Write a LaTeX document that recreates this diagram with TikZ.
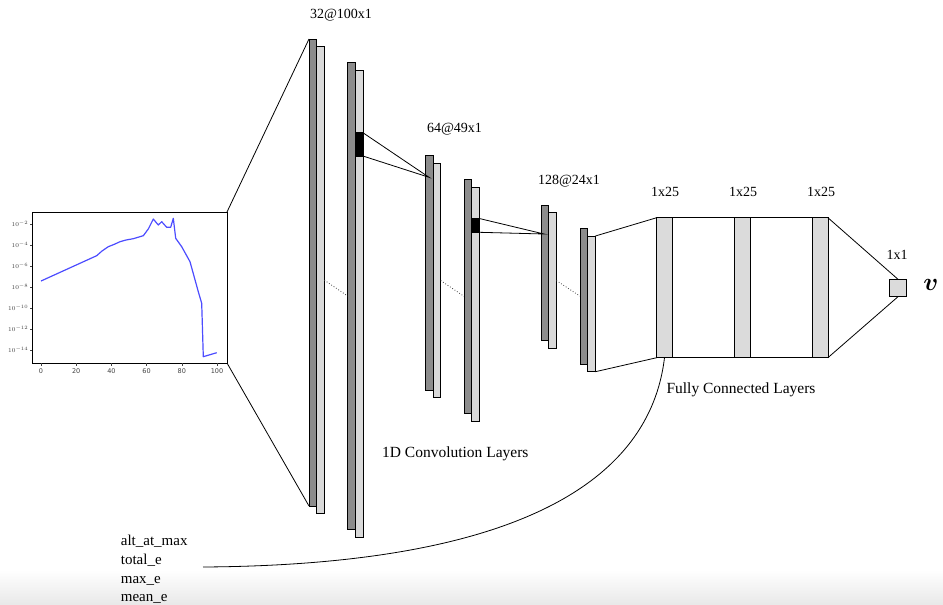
\documentclass[tikz,border=0pt]{standalone}
\usepackage{fontspec}
\setmainfont{Liberation Serif}
\newfontfamily\plotfont{DejaVu Sans}
\usepackage{bm}
\newcommand\convpair[4]{%
  \node[dbar,minimum height=#4] (#1d) at (#2,#3) {};
  \node[lbar,minimum height=#4] (#1l) at ({#2+7.7},{#3+7.7}) {};}
\begin{document}
\begin{tikzpicture}[x=1pt,y=-1pt,
  barbase/.style={draw=black,line width=0.8pt,inner sep=0pt,outer sep=0pt,minimum width=7.7pt,anchor=north west},
  dbar/.style={barbase,fill=black!45},
  lbar/.style={barbase,fill=black!15},
  kern/.style={barbase,fill=black,minimum width=7.6pt},
  fcbar/.style={draw=black,line width=0.8pt,fill=black!14,inner sep=0pt,outer sep=0pt,minimum width=15.6pt,minimum height=140pt,anchor=north west},
  conn/.style={draw=black,line width=0.8pt},
  dotconn/.style={draw=black!75,line width=0.8pt,dotted},
  lab/.style={font=\fontsize{14}{16}\selectfont,inner sep=0pt},
  biglab/.style={font=\fontsize{15.5}{18}\selectfont,inner sep=0pt},
  feat/.style={font=\fontsize{15}{18}\selectfont,inner sep=0pt,anchor=base west},
  tick/.style={font=\plotfont\fontsize{6.5}{7}\selectfont,text=black!75,inner sep=0pt}
]
\useasboundingbox (0,0) rectangle (943,605);
\shade[top color=white,bottom color=black!9] (0,570) rectangle (943,605);

% input plot
\node[draw=black,line width=0.6pt,inner sep=0pt,outer sep=0pt,minimum width=195pt,minimum height=151pt,anchor=north west] (plot) at (32,212) {};
\foreach \k/\lab in {0/-2,1/-4,2/-6,3/-8,4/-10,5/-12,6/-14}{
  \draw[black!75,line width=0.4pt] (32,{224+21*\k}) -- (29.5,{224+21*\k});
  \node[tick,anchor=east] (yt\k) at (28.5,{224+21*\k}) {$10^{\lab}$};
}
\foreach \i/\lab in {0/0,1/20,2/40,3/60,4/80,5/100}{
  \draw[black!75,line width=0.4pt] ({41+35.2*\i},363) -- ({41+35.2*\i},365.5);
  \node[tick] (xt\i) at ({41+35.2*\i},371) {\lab};
}
\draw[blue!70,line width=1.2pt,line join=round] (41,281) -- (96.7,255.7) -- (102,251) -- (108.3,246.7) -- (115,244) -- (120,241.7)
  -- (126,240) -- (133.3,238.7) -- (143.3,235.7) -- (148.3,229) -- (153.3,219) -- (158.3,225) -- (161.7,221.7)
  -- (166.7,227.3) -- (170.7,227.3) -- (173.3,218.3) -- (175.7,238.3) -- (181.7,246.7) -- (190,261.7)
  -- (198.3,291.7) -- (201.7,303.3) -- (203.3,356.7) -- (216.7,352.7);

% convolution layers
\convpair{a}{309}{39}{467}
\convpair{b}{347.7}{62.3}{467.5}
\convpair{c}{425.3}{155.7}{234.3}
\convpair{d}{464}{179.3}{234}
\convpair{e}{541}{205}{135.7}
\convpair{f}{580}{228.3}{135.7}

\node[kern,minimum height=23.3pt] (k1) at (355.3,132.7) {};
\node[kern,minimum height=13.8pt] (k2) at (471.7,218.5) {};
\coordinate (c1) at (429,177.3);
\coordinate (c2) at (544,234);

\draw[conn] (plot.north east) -- (ad.north west);
\draw[conn] (plot.south east) -- (ad.south west);
\draw[conn] (k1.north east) -- (c1) -- (k1.south east);
\draw[conn] (k2.north east) -- (c2) -- (k2.south east);
\draw[dotconn] (al.east) -- (bd.west);
\draw[dotconn] (cl.east) -- (dd.west);
\draw[dotconn] (el.east) -- (fd.west);

% fully connected
\node[fcbar] (fc1) at (656.7,217.7) {};
\node[fcbar] (fc2) at (734.7,217.7) {};
\node[fcbar] (fc3) at (812.3,217.7) {};
\node[draw=black,line width=0.8pt,fill=black!14,inner sep=0pt,outer sep=0pt,minimum size=17.4pt] (out) at (898,288) {};

\draw[conn] (fl.north east) -- (fc1.north west);
\draw[conn] (fl.south east) -- (fc1.south west);
\draw[conn] (fc1.north east) -- (fc2.north west);
\draw[conn] (fc2.north east) -- (fc3.north west);
\draw[conn] (fc1.south east) -- (fc2.south west);
\draw[conn] (fc2.south east) -- (fc3.south west);
\draw[conn] (fc3.north east) -- (out.north);
\draw[conn] (fc3.south east) -- (out.south);

% labels
\node[lab] (l1) at (341,15) {32@100x1};
\node[lab] (l2) at (454.5,129.5) {64@49x1};
\node[lab] (l3) at (569,181) {128@24x1};
\node[lab] (l4) at (665,191.7) {1x25};
\node[lab] (l5) at (743,191.7) {1x25};
\node[lab] (l6) at (821,191.7) {1x25};
\node[lab] (l7) at (897,255) {1x1};
\node[inner sep=0pt,font=\fontsize{26}{28}\selectfont] (vv) at (931,285) {$\bm{v}$};
\node[biglab] (fcl) at (741,390) {Fully Connected Layers};
\node[biglab] (cvl) at (455.3,453.3) {1D Convolution Layers};

% scalar features
\node[feat] (f1) at (120.7,545.5) {alt\_at\_max};
\node[feat] (f2) at (120.7,564.5) {total\_e};
\node[feat] (f3) at (120.7,583) {max\_e};
\node[feat] (f4) at (120.7,601.5) {mean\_e};
\coordinate (fs) at (203,567);
\draw[conn] (fs) .. controls (520,565) and (650,480) .. (fc1.south);
\end{tikzpicture}
\end{document}
